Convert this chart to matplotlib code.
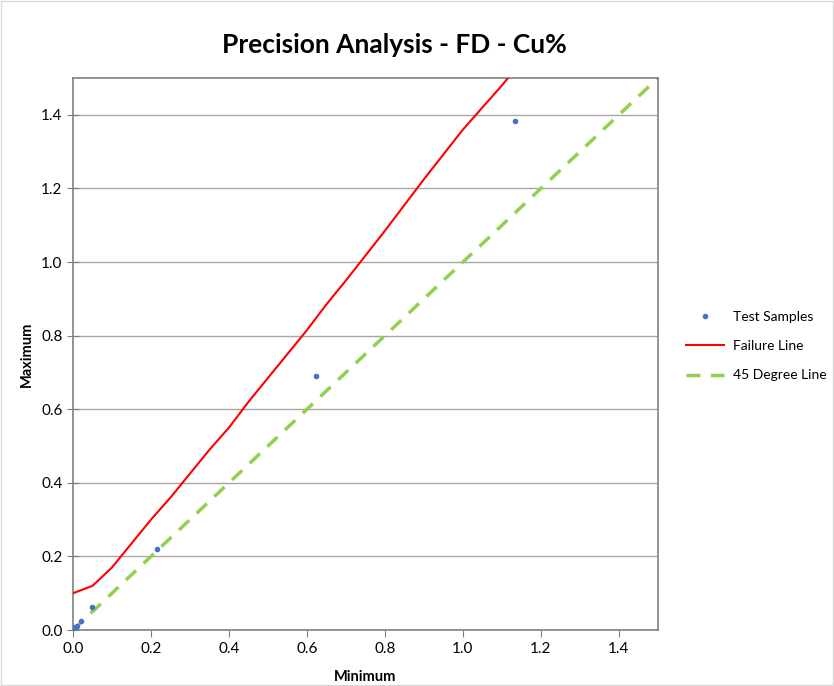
import matplotlib.pyplot as plt
import numpy as np
from matplotlib.ticker import FormatStrFormatter

plt.rcParams['font.family'] = ['Lato', 'DejaVu Sans']

sample_min = [0.0, 0.002, 0.005, 0.01, 0.02, 0.048, 0.215, 0.622, 1.133]
sample_max = [0.0, 0.004, 0.007, 0.012, 0.025, 0.063, 0.221, 0.689, 1.384]

fail_x = [0, 0.05, 0.1, 0.15, 0.2, 0.25, 0.3, 0.35, 0.4, 0.45, 0.5, 0.55,
          0.6, 0.65, 0.7, 0.8, 0.9, 1.0, 1.1, 1.2]
fail_y = [0.1, 0.12, 0.17, 0.235, 0.30, 0.36, 0.425, 0.49, 0.55, 0.62, 0.685,
          0.75, 0.815, 0.885, 0.95, 1.085, 1.225, 1.36, 1.48, 1.61]

deg45 = [0, 1.5]

fig = plt.figure(figsize=(8.34, 6.86), dpi=100)
ax = fig.add_axes([0.0875, 0.0816, 0.7014, 0.8047])

ax.plot(sample_min, sample_max, 'o', color='#4472C4', markersize=3, label='Test Samples', zorder=4)
ax.plot(fail_x, fail_y, '-', color='#FF0000', linewidth=1.5, label='Failure Line', zorder=3)
ax.plot(deg45, deg45, '--', color='#92D050', linewidth=2.5, dashes=(4, 3), label='45 Degree Line', zorder=2)

ax.set_xlim(0, 1.5)
ax.set_ylim(0, 1.5)
ax.set_xticks(np.arange(0, 1.41, 0.2))
ax.set_yticks(np.arange(0, 1.41, 0.2))
ax.xaxis.set_major_formatter(FormatStrFormatter('%.1f'))
ax.yaxis.set_major_formatter(FormatStrFormatter('%.1f'))
ax.grid(axis='y', color='#A6A6A6', linewidth=1)
ax.set_axisbelow(True)
for s in ax.spines.values():
    s.set_color('#808080')
    s.set_linewidth(1.2)
ax.tick_params(axis='both', labelsize=11, color='#808080', length=5)
ax.tick_params(axis='y', direction='inout', length=8)

ax.set_xlabel('Minimum', fontsize=10.5, fontweight='bold', labelpad=10)
ax.set_ylabel('Maximum', fontsize=10.5, fontweight='bold', labelpad=5)
fig.text(0.473, 0.934, 'Precision Analysis - FD - Cu%', fontsize=19, fontweight='bold',
         ha='center', va='center')

ax.legend(loc='center left', bbox_to_anchor=(1.048, 0.5145), frameon=False, fontsize=10,
          borderaxespad=0, borderpad=0, handlelength=2.7, handletextpad=0.65,
          labelspacing=1.25)

fig.patches.append(plt.Rectangle((0.001, 0.001), 0.998, 0.998, transform=fig.transFigure,
                                 fill=False, edgecolor='#D9D9D9', linewidth=1))

fig.savefig('out.png', dpi=100)
